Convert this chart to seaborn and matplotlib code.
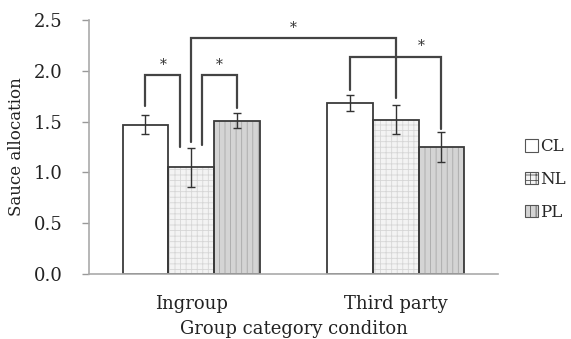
import numpy as np
import pandas as pd
import seaborn as sns
import matplotlib.pyplot as plt
from matplotlib.patches import Patch
from matplotlib.ticker import FormatStrFormatter

# data
groups = ['Ingroup', 'Third party']
conditions = ['CL', 'NL', 'PL']
means_ingroup = [1.47, 1.05, 1.51]
means_third = [1.68, 1.52, 1.25]
err_ingroup = [0.09, 0.19, 0.075]
err_third = [0.08, 0.14, 0.145]

# significance brackets: (left group, left cond, left shift, left end,
#                         right group, right cond, right shift, right end, top, star shift)
brackets = [
    ('Ingroup', 'CL', 0.0, 1.65, 'Ingroup', 'NL', -0.054, 1.25, 1.96, 0.0),
    ('Ingroup', 'NL', 0.054, 1.27, 'Ingroup', 'PL', 0.0, 1.63, 1.96, 0.0),
    ('Ingroup', 'NL', 0.0, 1.30, 'Third party', 'NL', 0.0, 1.73, 2.32, 0.0),
    ('Third party', 'CL', 0.0, 1.81, 'Third party', 'PL', 0.0, 1.43, 2.14, 0.125),
]

df = pd.DataFrame({
    'group': np.repeat(groups, 3),
    'cond': conditions * 2,
    'value': means_ingroup + means_third,
    'err': err_ingroup + err_third,
})

face = {'CL': '#ffffff', 'NL': '#f3f3f3', 'PL': '#d4d4d4'}
hatch_col = {'CL': '#ffffff', 'NL': '#d6d6d6', 'PL': '#a8a8a8'}
hatches = {'CL': '', 'NL': '+++', 'PL': '|||'}
edge = '#3a3a3a'

sns.set_theme(style='white')
plt.rcParams['font.family'] = ['DejaVu Serif', 'Liberation Serif']
plt.rcParams['hatch.linewidth'] = 0.6

fig = plt.figure(figsize=(5.71, 3.39), dpi=100)
ax = fig.add_axes([0.156, 0.192, 0.716, 0.749])

# filled, hatched bars
sns.barplot(data=df, x='group', y='value', hue='cond', order=groups, hue_order=conditions,
            palette=face, width=0.672, gap=0, errorbar=None, legend=False, linewidth=0, ax=ax)
for cond, cont in zip(conditions, ax.containers[:3]):
    for bar in cont:
        bar.set_hatch(hatches[cond])
        bar.set_edgecolor(hatch_col[cond])
# outlines on top
sns.barplot(data=df, x='group', y='value', hue='cond', order=groups, hue_order=conditions,
            palette={c: edge for c in conditions}, fill=False, width=0.672, gap=0,
            errorbar=None, legend=False, linewidth=1.3, ax=ax)

# error bars and bar centres
centres = {}
for cond, cont in zip(conditions, ax.containers[:3]):
    for grp, bar in zip(groups, cont):
        xc = bar.get_x() + bar.get_width() / 2
        centres[(grp, cond)] = xc
        row = df[(df.group == grp) & (df.cond == cond)].iloc[0]
        ax.errorbar(xc, row.value, yerr=row.err, fmt='none', ecolor='#333333',
                    elinewidth=1.0, capsize=3, capthick=1.0, zorder=5)

for gl, cl, dl, yl, gr, cr, dr, yr, top, sdx in brackets:
    x0 = centres[(gl, cl)] + dl
    x1 = centres[(gr, cr)] + dr
    ax.plot([x0, x0, x1, x1], [yl, top, top, yr], color='#444444', lw=1.6,
            solid_joinstyle='miter', zorder=6)
    ax.text((x0 + x1) / 2 + sdx, top + 0.06, '*', ha='center', va='baseline',
            fontsize=10, color='#333333')

ax.set_xlim(-0.5, 1.5)
ax.set_ylim(0, 2.5)
ax.set_yticks(np.arange(0, 2.51, 0.5))
ax.yaxis.set_major_formatter(FormatStrFormatter('%.1f'))
ax.set_xticks([0, 1], groups)
ax.set_xticks([-0.5, 0.5, 1.5], minor=True)
ax.tick_params(axis='x', which='major', length=0, pad=15, labelsize=13, colors='#222222')
ax.tick_params(axis='x', which='minor', length=5, width=1, color='#999999', direction='out')
ax.tick_params(axis='y', length=5, width=1, color='#999999', direction='out', pad=14,
               labelsize=13, labelcolor='#222222', left=True)
ax.set_xlabel('Group category conditon', fontsize=13, labelpad=5, color='#222222')
ax.set_ylabel('Sauce allocation', fontsize=12, labelpad=6, color='#222222')
sns.despine(ax=ax)
for side in ['left', 'bottom']:
    ax.spines[side].set_color('#aaaaaa')
    ax.spines[side].set_linewidth(1.2)

handles = [Patch(facecolor=face[c], edgecolor='#555555', hatch=hatches[c], linewidth=0.8)
           for c in conditions]
fig.legend(handles, conditions, loc='center left', bbox_to_anchor=(0.92, 0.47),
           frameon=False, fontsize=12, handlelength=0.75, handleheight=0.75,
           handletextpad=0.15, labelspacing=0.95, borderpad=0, borderaxespad=0)

fig.savefig('out.png', dpi=100)
